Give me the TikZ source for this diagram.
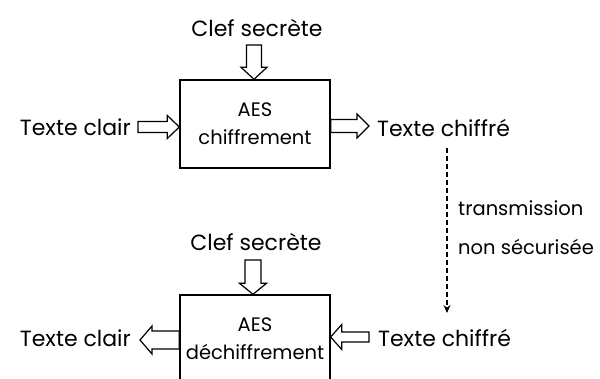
\documentclass[tikz,border=0pt]{standalone}
\usepackage{fontspec}
\setmainfont{Poppins}
\usetikzlibrary{calc,arrows.meta,positioning}
\tikzset{box/.style = {shape=rectangle,draw,line width=1.4pt,minimum width=150pt,minimum height=88pt,align=center,font=\fontsize{19.5}{28}\selectfont}}
\tikzset{txt/.style = {font=\fontsize{22}{26}\selectfont,inner sep=0pt}}
\tikzset{hollow/.style = {draw,line width=1.2pt,fill=white,line join=miter}}
\tikzset{channel/.style = {line width=1.1pt,dash pattern=on 5pt off 3pt,-{Stealth[length=8pt,width=7pt]}}}
% hollow block arrow: from, to, half shaft, half head, head length
\newcommand{\hollowarrow}[5]{%
  \coordinate (hb) at ($(#2)!#5!(#1)$);
  \draw[hollow] ($(#1)!#3!90:(#2)$) -- ($(hb)!#3!90:(#2)$) -- ($(hb)!#4!90:(#2)$) -- (#2)
    -- ($(hb)!#4!-90:(#2)$) -- ($(hb)!#3!-90:(#2)$) -- ($(#1)!#3!-90:(#2)$) -- cycle;
}
\begin{document}
\begin{tikzpicture}[x=1pt,y=-1pt]
\clip (0,0) rectangle (600,379);
% boxes
\node[box] (e) at (255,124) {AES\\chiffrement};
\node[box] (d) at (255,339) {AES\\déchiffrement};

% texts
\node[txt] (k1) at (257,28) {Clef secrète};
\node[txt,anchor=east] (p1) at (131,127) {Texte clair};
\node[txt,anchor=west] (c1) at (377,128) {Texte chiffré};
\node[txt] (k2) at (256,242) {Clef secrète};
\node[txt,anchor=east] (p2) at (131,338) {Texte clair};
\node[txt,anchor=west] (c2) at (378,338) {Texte chiffré};
\node[txt,anchor=west,align=left,font=\fontsize{19.5}{39}\selectfont] (t) at (458,228) {transmission\\non sécurisée};

% free ends
\coordinate (a1) at (254,45);
\coordinate (a2) at (138,127);
\coordinate (a3) at (369,126);
\coordinate (a4) at (253,260);
\coordinate (a5) at (140,340);
\coordinate (a6) at (369,337);
\coordinate (u1) at (447,148);
\coordinate (u2) at (447,313);

% arrows
\hollowarrow{a1}{a1 |- e.north}{7.5pt}{13pt}{12pt}
\hollowarrow{a2}{a2 -| e.west}{5.5pt}{11.5pt}{12pt}
\hollowarrow{a3 -| e.east}{a3}{6.5pt}{12pt}{12pt}
\hollowarrow{a4}{a4 |- d.north}{8pt}{13.5pt}{11pt}
\hollowarrow{a5 -| d.west}{a5}{9pt}{14pt}{12pt}
\hollowarrow{a6}{a6 -| d.east}{5pt}{12.5pt}{11pt}
\draw[channel] (u1) -- (u2);
\end{tikzpicture}
\end{document}
